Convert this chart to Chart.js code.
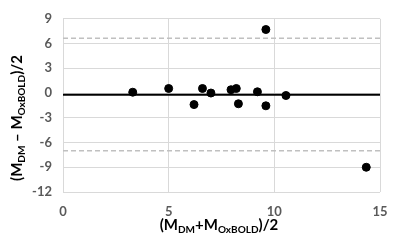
<!DOCTYPE html>
<html>
<head>
<meta charset="utf-8">
<script src="https://cdn.jsdelivr.net/npm/chart.js@4"></script>
<style>
  html, body { margin: 0; padding: 0; background: #fff; }
  #wrap { width: 400px; height: 250px; }
</style>
</head>
<body>
<div id="wrap"><canvas id="chart" width="400" height="250"></canvas></div>
<script>
// Bland-Altman: mean of the two methods vs. half difference
const MEAN_VALUES = [3.3, 5.0, 6.2, 6.6, 7.0, 7.95, 8.2, 8.3, 9.2, 9.6, 9.6, 10.55, 14.35];
const DIFF_VALUES = [0.1, 0.55, -1.4, 0.55, 0.0, 0.4, 0.55, -1.3, 0.15, 7.7, -1.55, -0.3, -9.0];
const BIAS = -0.2;
const UPPER_LOA = 6.65;
const LOWER_LOA = -7.0;
const X_TICKS = [0, 5, 10, 15];
const Y_TICKS = [-12, -9, -6, -3, 0, 3, 6, 9];

const FONT = 'Lato, "Liberation Sans", sans-serif';

const hline = (y) => [{x: X_TICKS[0], y: y}, {x: X_TICKS[X_TICKS.length - 1], y: y}];

// draws a label made of [text, isSubscript] pieces, centred on (0,0) of the current transform
const drawRich = (ctx, parts) => {
  const big = 'bold 15px ' + FONT;
  const small = 'bold 10px ' + FONT;
  let total = 0;
  parts.forEach(p => { ctx.font = p[1] ? small : big; total += ctx.measureText(p[0]).width; });
  let x = -total / 2;
  ctx.textBaseline = 'alphabetic';
  ctx.textAlign = 'left';
  parts.forEach(p => {
    ctx.font = p[1] ? small : big;
    ctx.fillText(p[0], x, p[1] ? 8 : 5);
    x += ctx.measureText(p[0]).width;
  });
};

const axisTitles = {
  id: 'axisTitles',
  afterDraw(chart) {
    const ctx = chart.ctx;
    ctx.save();
    ctx.fillStyle = '#000';
    ctx.translate(219, 225);
    drawRich(ctx, [['(M', false], ['DM', true], ['+M', false], ['OxBOLD', true], [')/2', false]]);
    ctx.restore();
    ctx.save();
    ctx.fillStyle = '#000';
    ctx.translate(17, 118);
    ctx.rotate(-Math.PI / 2);
    drawRich(ctx, [['(M', false], ['DM', true], [' \u2013 M', false], ['OxBOLD', true], [')/2', false]]);
    ctx.restore();
  }
};

const config = {
  type: 'scatter',
  data: {
    datasets: [
      {
        data: MEAN_VALUES.map((x, i) => ({x: x, y: DIFF_VALUES[i]})),
        backgroundColor: '#000',
        borderColor: '#000',
        pointRadius: 4,
        order: 0
      },
      {
        data: hline(BIAS),
        showLine: true,
        borderColor: '#000',
        borderWidth: 2,
        pointRadius: 0,
        order: 1
      },
      {
        data: hline(UPPER_LOA),
        showLine: true,
        borderColor: '#c0c0c0',
        borderWidth: 1.5,
        borderDash: [5, 3],
        pointRadius: 0,
        order: 2
      },
      {
        data: hline(LOWER_LOA),
        showLine: true,
        borderColor: '#c0c0c0',
        borderWidth: 1.5,
        borderDash: [5, 3],
        pointRadius: 0,
        order: 2
      }
    ]
  },
  options: {
    responsive: false,
    animation: false,
    layout: { padding: { left: 0, top: 15, right: 20, bottom: 0 } },
    plugins: { legend: { display: false }, tooltip: { enabled: false } },
    scales: {
      x: {
        type: 'linear',
        min: 0,
        max: 15,
        afterFit: s => { s.height = 58; },
        afterBuildTicks: s => { s.ticks = X_TICKS.map(v => ({value: v})); },
        grid: { color: '#d9d9d9', drawTicks: false },
        border: { display: false },
        ticks: { padding: 12, color: '#595959', font: { family: FONT, size: 13, weight: 'bold' } }
      },
      y: {
        type: 'linear',
        min: -12,
        max: 9,
        afterFit: s => { s.width = 63; },
        afterBuildTicks: s => { s.ticks = Y_TICKS.map(v => ({value: v})); },
        grid: { color: '#d9d9d9', drawTicks: false },
        border: { display: false },
        ticks: { padding: 11, color: '#595959', font: { family: FONT, size: 13, weight: 'bold' } }
      }
    }
  },
  plugins: [axisTitles]
};

new Chart(document.getElementById('chart'), config);
</script>
</body>
</html>
